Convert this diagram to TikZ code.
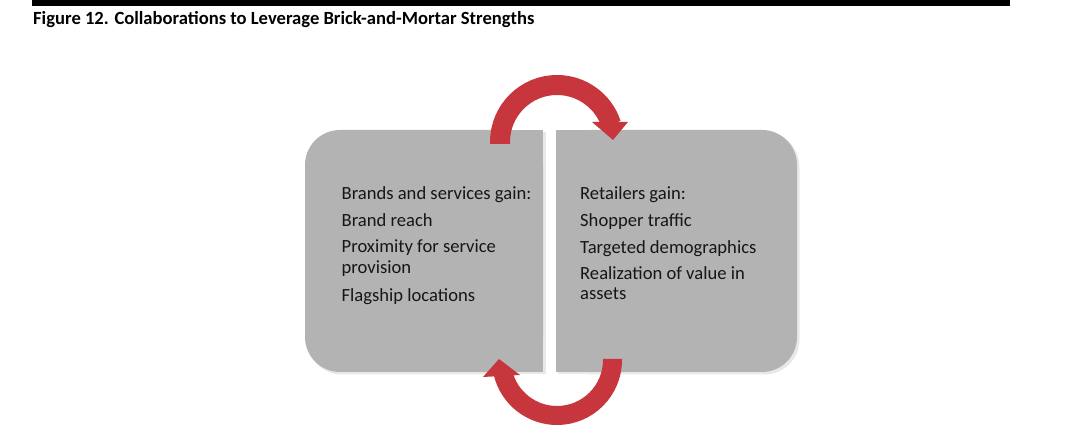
\documentclass[tikz,border=0pt]{standalone}
\usepackage{fontspec}
\setmainfont{Carlito}
\usetikzlibrary{calc}
\definecolor{boxgray}{RGB}{179,179,179}
\definecolor{shadowgray}{RGB}{232,232,232}
\definecolor{arrred}{RGB}{198,54,60}
\definecolor{txt}{RGB}{22,22,22}
\begin{document}
\begin{tikzpicture}[x=1pt,y=1pt,
  boxfill/.style={fill=boxgray},
  shadowfill/.style={fill=shadowgray},
  band/.style={draw=arrred,line width=20pt},
  headfill/.style={fill=arrred},
  line/.style={anchor=base west,inner sep=0pt,text=txt,font=\fontsize{18.6}{22}\selectfont},
  titlestyle/.style={anchor=base west,inner sep=0pt,font=\bfseries\fontsize{18.6}{22}\selectfont}]
\useasboundingbox (0,0) rectangle (1080,443);
% top bar and title
\fill[black] (32,437) rectangle (1010,443);
\node[titlestyle] (title) at (33,418) {Figure 12. Collaborations to Leverage Brick-and-Mortar Strengths};
% box shadows
\fill[shadowfill,rounded corners=35] (307,68.5) rectangle (545.5,311);
\fill[shadowfill] (450,68.5) rectangle (545.5,311);
\fill[shadowfill,rounded corners=35] (558,68.5) rectangle (799.5,311);
\fill[shadowfill] (558,68.5) rectangle (650,311);
% left box
\fill[boxfill,rounded corners=35] (305,71) rectangle (543,313);
\fill[boxfill] (450,71) rectangle (543,313);
% right box
\fill[boxfill,rounded corners=35] (556,71) rectangle (797,313);
\fill[boxfill] (556,71) rectangle (650,313);
% left texts
\node[line] (l1) at (341.5,243) {Brands and services gain:};
\node[line] (l2) at (341.5,216.3) {Brand reach};
\node[line] (l3) at (341.5,190.3) {Proximity for service};
\node[line] (l4) at (341.5,169.7) {provision};
\node[line] (l5) at (341.5,141.3) {Flagship locations};
% right texts
\node[line] (r1) at (580,243) {Retailers gain:};
\node[line] (r2) at (580,216.3) {Shopper traffic};
\node[line] (r3) at (580,189.7) {Targeted demographics};
\node[line] (r4) at (580,163.7) {Realization of value in};
\node[line] (r5) at (580,143) {assets};
% top arrow
\coordinate (ct) at (557,301);
\draw[band] ($(ct)+(180:57)+(0,-2)$) -- ($(ct)+(180:57)$) arc[start angle=180,end angle=18,radius=57];
\fill[headfill] (592,321) -- (628,321) -- (613,303) -- cycle;
% bottom arrow
\coordinate (cb) at (557,83);
\draw[band,line width=19pt] ($(cb)+(0:55.5)+(0,1)$) -- ($(cb)+(0:55.5)$) arc[start angle=0,end angle=-166,radius=55.5];
\fill[headfill] (483,66) -- (520,68) -- (499,84) -- cycle;
\end{tikzpicture}
\end{document}
